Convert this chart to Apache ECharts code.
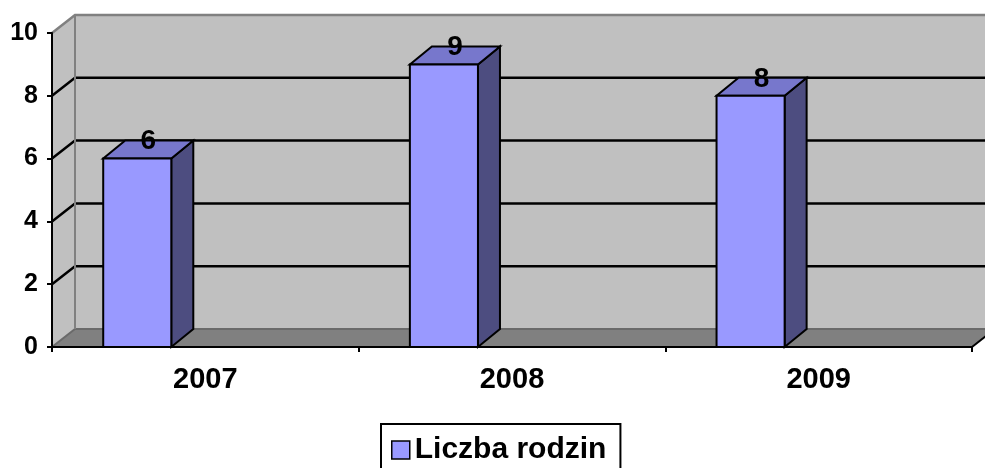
<!DOCTYPE html>
<html>
<head>
<meta charset="utf-8">
<script src="https://cdn.jsdelivr.net/npm/echarts@6/dist/echarts.min.js"></script>
<style>
html,body{margin:0;padding:0;background:#fff;}
#chart{width:985px;height:468px;}
</style>
</head>
<body>
<div id="chart"></div>
<script>
const categories = ['2007', '2008', '2009'];
const seriesName = 'Liczba rodzin';
const values = [6, 9, 8];
const yTicks = [0, 2, 4, 6, 8, 10];

const DX = 23, DY = -18;     // wall depth
const BDX = 22, BDY = -18;   // bar depth
const FONT = '"Liberation Sans", Arial, sans-serif';

const chart = echarts.init(document.getElementById('chart'), null, {renderer: 'canvas'});

function wallsRender(params, api) {
  const cs = params.coordSys;
  const x0 = cs.x, x1 = cs.x + cs.width, yT = cs.y, yB = cs.y + cs.height;
  const children = [];
  children.push({type: 'rect', shape: {x: x0 + DX, y: yT + DY, width: x1 - x0 + 40, height: yB - yT},
    style: {fill: '#c0c0c0'}});
  children.push({type: 'polygon', shape: {points: [[x0, yT], [x0 + DX, yT + DY], [x0 + DX, yB + DY], [x0, yB]]},
    style: {fill: '#c0c0c0'}});
  children.push({type: 'polygon', shape: {points: [[x0, yB], [x0 + DX, yB + DY], [x1 + DX, yB + DY], [x1, yB]]},
    style: {fill: '#808080'}});
  children.push({type: 'polyline', shape: {points: [[x0, yB], [x0 + DX, yB + DY], [x1 + DX + 20, yB + DY]]},
    style: {stroke: '#6a6a6a', lineWidth: 2, fill: null}});
  yTicks.forEach(function (v) {
    if (v === 0 || v === yTicks[yTicks.length - 1]) return;
    const y = api.coord([0, v])[1];
    children.push({type: 'polyline', shape: {points: [[x0, y], [x0 + DX, y + DY], [x1 + DX + 20, y + DY]]},
      style: {stroke: '#000', lineWidth: 2.5, fill: null}});
  });
  children.push({type: 'line', shape: {x1: x0 + DX, y1: yT + DY, x2: x0 + DX, y2: yB + DY},
    style: {stroke: '#808080', lineWidth: 2}});
  children.push({type: 'polyline', shape: {points: [[x0, yT], [x0 + DX, yT + DY], [x1 + DX + 20, yT + DY]]},
    style: {stroke: '#808080', lineWidth: 2.5, fill: null}});
  children.push({type: 'line', shape: {x1: x1, y1: yB, x2: x1 + DX, y2: yB + DY},
    style: {stroke: '#000', lineWidth: 2}});
  return {type: 'group', children: children};
}

function barRender(params, api) {
  const idx = api.value(0), val = api.value(1);
  const top = api.coord([idx, val]);
  const base = api.coord([idx, 0]);
  const bw = api.size([1, 0])[0];
  const xa = top[0] - 0.333 * bw;
  const xb = xa + 0.222 * bw;
  const yt = top[1], yb = base[1];
  const stroke = {stroke: '#000', lineWidth: 2, lineJoin: 'miter'};
  return {
    type: 'group',
    children: [
      {type: 'polygon', shape: {points: [[xb, yt], [xb + BDX, yt + BDY], [xb + BDX, yb + BDY], [xb, yb]]},
        style: Object.assign({fill: '#4d4d80'}, stroke)},
      {type: 'polygon', shape: {points: [[xa, yt], [xb, yt], [xb + BDX, yt + BDY], [xa + BDX, yt + BDY]]},
        style: Object.assign({fill: '#7777cc'}, stroke)},
      {type: 'rect', shape: {x: xa, y: yt, width: xb - xa, height: yb - yt},
        style: Object.assign({fill: '#9999ff'}, stroke)},
      {type: 'text', x: (xa + xb) / 2 + BDX / 2, y: yt + BDY / 2 - 8,
        style: {text: String(val), font: 'bold 28px ' + FONT, fill: '#000', align: 'center', verticalAlign: 'middle'}}
    ]
  };
}

const option = {
  animation: false,
  backgroundColor: '#fff',
  grid: {left: 52, right: 13, top: 33, bottom: 121, containLabel: false},
  xAxis: {
    type: 'category', data: categories, boundaryGap: true, z: 5,
    axisLine: {show: true, lineStyle: {color: '#000', width: 2}},
    axisTick: {show: true, length: 5, lineStyle: {color: '#000', width: 2}},
    axisLabel: {color: '#000', fontFamily: FONT, fontWeight: 'bold', fontSize: 29, margin: 18},
    splitLine: {show: false}
  },
  yAxis: {
    type: 'value', min: 0, max: 10, interval: 2, z: 5,
    axisLine: {show: true, lineStyle: {color: '#000', width: 2}},
    axisTick: {show: true, length: 5, lineStyle: {color: '#000', width: 2}},
    axisLabel: {color: '#000', fontFamily: FONT, fontWeight: 'bold', fontSize: 25, margin: 14},
    splitLine: {show: false}
  },
  legend: {
    show: true, left: 381, top: 424,
    data: [{name: seriesName, icon: 'rect'}],
    itemWidth: 18, itemHeight: 18,
    borderColor: '#000', borderWidth: 2, borderRadius: 0,
    padding: [11, 14, 30, 10],
    itemStyle: {color: '#9999ff', borderColor: '#000', borderWidth: 1.5},
    textStyle: {color: '#000', fontFamily: FONT, fontWeight: 'bold', fontSize: 30, lineHeight: 30}
  },
  series: [
    {type: 'custom', name: '_walls', z: 1, silent: true, renderItem: wallsRender, data: [[0, 0]],
      encode: {x: 0, y: 1}},
    {type: 'custom', name: seriesName, z: 3, renderItem: barRender,
      itemStyle: {color: '#9999ff', borderColor: '#000', borderWidth: 1.5},
      data: values.map(function (v, i) { return [i, v]; }),
      encode: {x: 0, y: 1}}
  ]
};
chart.setOption(option);
</script>
</body>
</html>
